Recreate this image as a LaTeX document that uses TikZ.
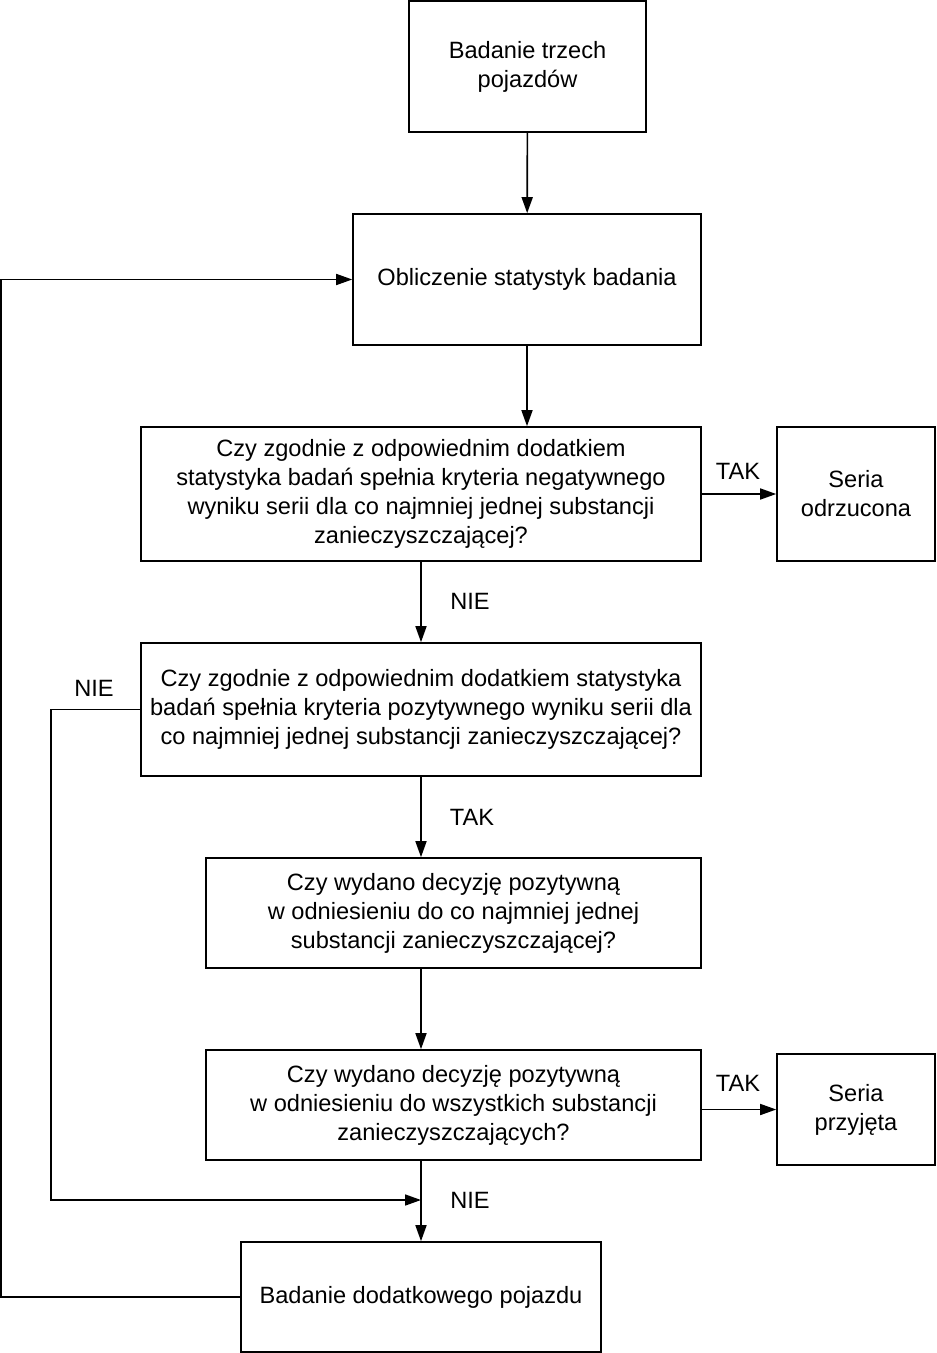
\documentclass[tikz,border=0pt]{standalone}
\usepackage{fontspec}
\setmainfont{Liberation Sans}
\usetikzlibrary{arrows.meta}

\begin{document}
\begin{tikzpicture}[x=0.5pt,y=-0.5pt,>={Triangle[length=8pt,width=5.5pt]},
    every path/.style={line width=0.8pt},
    box/.style={draw,align=center,inner sep=0pt,font=\fontsize{11.8}{14.5}\selectfont},
    lbl/.style={font=\fontsize{11.8}{14.5}\selectfont}]
        \useasboundingbox (0,0) rectangle (936,1353);
        % boxes
        \node[box,minimum width=118.5pt,minimum height=65.5pt] (start) at (527.5,66.5) {Badanie trzech\\pojazdów};
        \node[box,minimum width=174pt,minimum height=65.5pt] (calc) at (527,279.5) {Obliczenie statystyk badania};
        \node[box,minimum width=280pt,minimum height=67pt] (neg) at (421,494) {Czy zgodnie z odpowiednim dodatkiem\\statystyka badań spełnia kryteria negatywnego\\wyniku serii dla co najmniej jednej substancji\\zanieczyszczającej?};
        \node[box,minimum width=79pt,minimum height=67pt] (rej) at (856,494) {Seria\\odrzucona};
        \node[box,minimum width=280pt,minimum height=66.5pt] (pos) at (421,709.5) {Czy zgodnie z odpowiednim dodatkiem statystyka\\badań spełnia kryteria pozytywnego wyniku serii dla\\co najmniej jednej substancji zanieczyszczającej?};
        \node[box,minimum width=247.5pt,minimum height=55pt] (one) at (453.5,913) {Czy wydano decyzję pozytywną\\w odniesieniu do co najmniej jednej\\substancji zanieczyszczającej?};
        \node[box,minimum width=247.5pt,minimum height=55pt] (all) at (453.5,1105) {Czy wydano decyzję pozytywną\\w odniesieniu do wszystkich substancji\\zanieczyszczających?};
        \node[box,minimum width=79pt,minimum height=55.5pt] (acc) at (856,1109.5) {Seria\\przyjęta};
        \node[box,minimum width=180pt,minimum height=55pt] (extra) at (421,1297) {Badanie dodatkowego pojazdu};
        \coordinate (join) at (421,1200);
        % connectors
        \draw[->] (start) -- (calc);
        \draw[->] (calc.south) -- (calc.south |- neg.north);
        \draw[->] (neg) -- (rej);
        \draw[->] (neg) -- (pos);
        \draw[->] (pos.south) -- (pos.south |- one.north);
        \draw[->] (pos.south |- one.south) -- (pos.south |- all.north);
        \draw[->] (all.east |- acc.west) -- (acc.west);
        \draw[->] (pos.south |- all.south) -- (extra.north);
        \draw[->] (pos.west) -- ++(-89,0) |- (join);
        \draw[->] (extra.west) -- ++(-239,0) |- (calc.west);
        % labels
        \node[lbl] (tak1) at (738,471) {TAK};
        \node[lbl] (nie1) at (470,601) {NIE};
        \node[lbl] (tak2) at (472,817) {TAK};
        \node[lbl] (tak3) at (738,1083) {TAK};
        \node[lbl] (nie2) at (470,1200) {NIE};
        \node[lbl] (nie3) at (94,688) {NIE};
      \end{tikzpicture}
\end{document}
